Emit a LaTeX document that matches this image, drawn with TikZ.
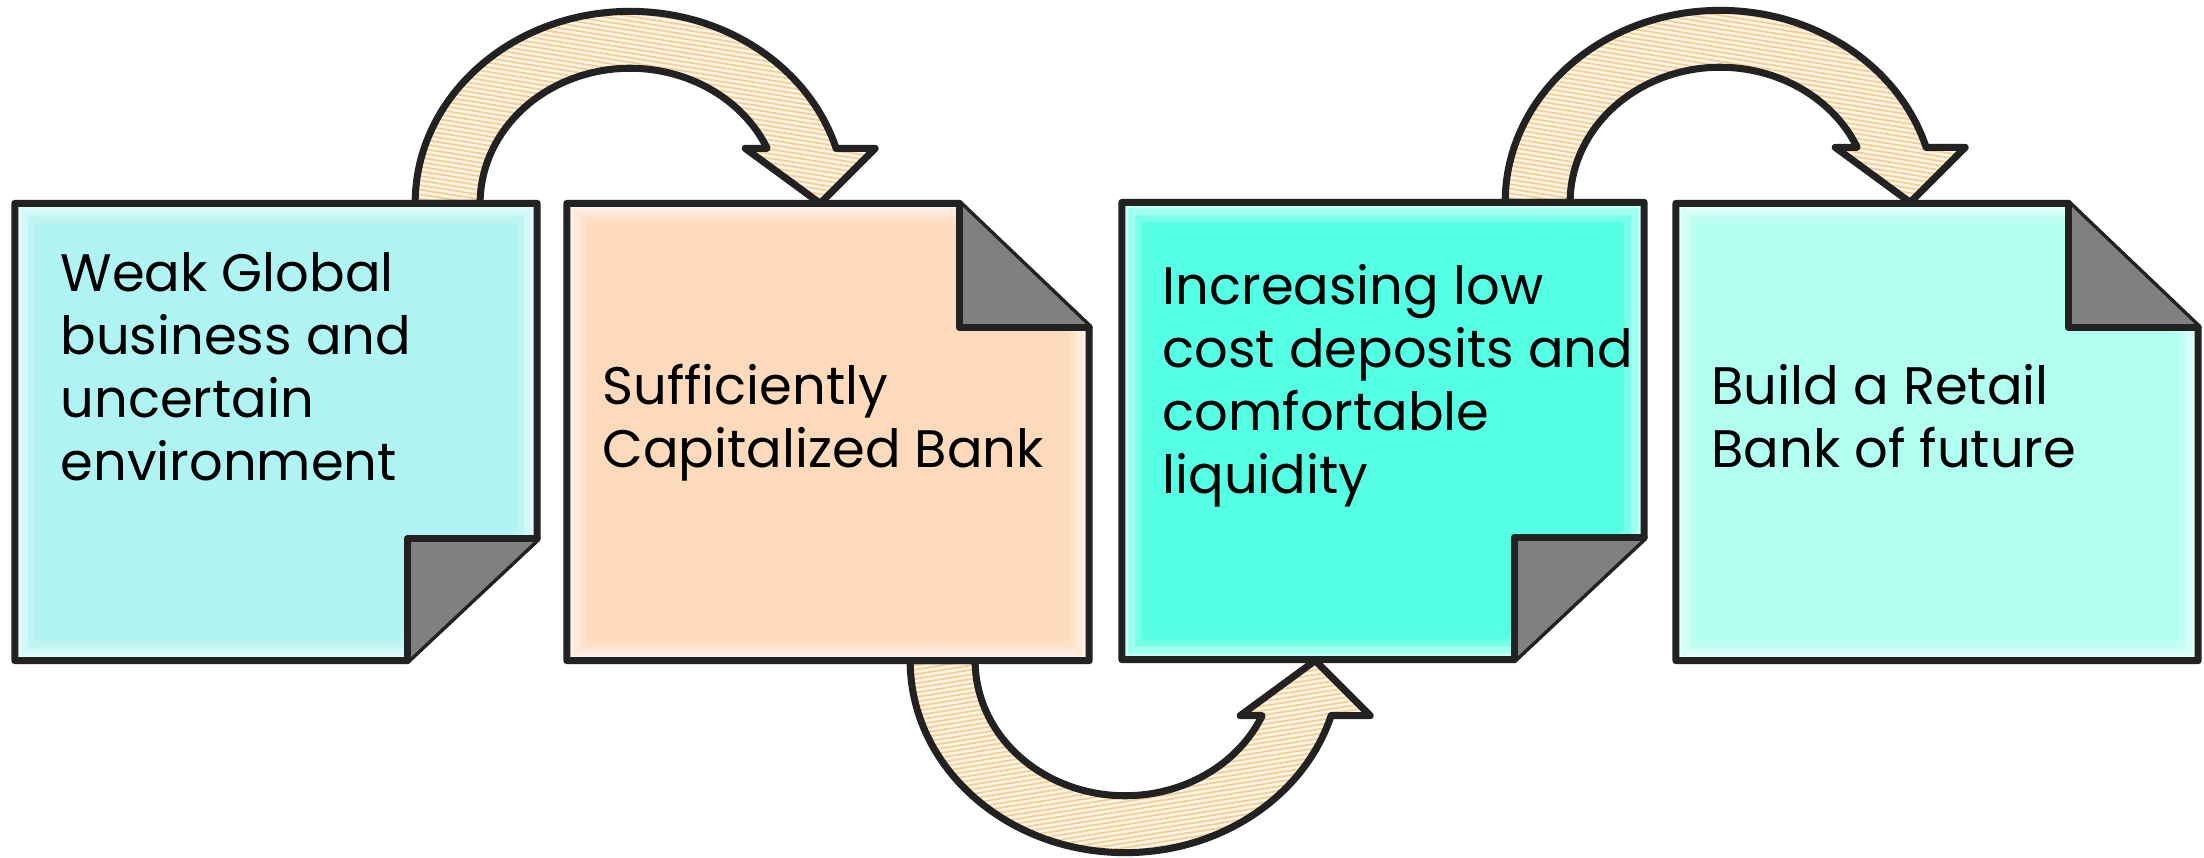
\documentclass[tikz,border=0pt]{standalone}
\usepackage{fontspec}
\setmainfont{Poppins}
\usetikzlibrary{calc}
\definecolor{lineblack}{HTML}{222222}
\definecolor{noteA}{HTML}{AFF4F2}
\definecolor{noteB}{HTML}{FDDABC}
\definecolor{noteC}{HTML}{55FFE4}
\definecolor{noteD}{HTML}{B0FFF0}
\definecolor{foldgray}{HTML}{808080}
\definecolor{arrowpeach}{HTML}{FFF6EA}
\definecolor{hatchorange}{HTML}{F9CD92}
\tikzset{
  outl/.style={draw=lineblack, line width=2pt, line join=round, line cap=round},
  boxnode/.style={minimum width=5.22cm, minimum height=4.57cm, inner sep=0pt, outer sep=0pt},
  txt/.style={font=\fontsize{15}{17.9}\selectfont, align=left, inner sep=0pt, anchor=base west, text=black},
  hatch/.style={draw=hatchorange, line width=0.5pt},
}
\newcommand\notepathBR[1]{(#1.north west) -- (#1.north east) -- ($(#1.south east)+(0,-122)$) -- ($(#1.south east)+(-130,0)$) -- (#1.south west) -- cycle}
\newcommand\notepathTR[1]{(#1.north west) -- ($(#1.north east)+(-130,0)$) -- ($(#1.north east)+(0,124)$) -- (#1.south east) -- (#1.south west) -- cycle}
\newcommand\drawnote[3]{%
  \fill[#2] #3{#1};
  \begin{scope}
    \clip #3{#1};
    \draw[white, line width=0.40cm, opacity=0.2] #3{#1};
    \draw[white, line width=0.26cm, opacity=0.3] #3{#1};
    \draw[white, line width=0.12cm, opacity=0.4] #3{#1};
  \end{scope}
  \draw[outl] #3{#1};
}
\newcommand\foldBR[1]{%
  \fill[foldgray] ($(#1.south east)+(-130,-122)$) -- ($(#1.south east)+(0,-122)$) -- ($(#1.south east)+(-130,0)$) -- cycle;
  \draw[outl] ($(#1.south east)+(-130,0)$) -- ($(#1.south east)+(-130,-122)$) -- ($(#1.south east)+(0,-122)$);
}
\newcommand\foldTR[1]{%
  \fill[foldgray] ($(#1.north east)+(-130,0)$) -- ($(#1.north east)+(-130,124)$) -- ($(#1.north east)+(0,124)$) -- cycle;
  \draw[outl] ($(#1.north east)+(-130,0)$) -- ($(#1.north east)+(-130,124)$) -- ($(#1.north east)+(0,124)$);
}
\newcommand\arrowpath{(-215,0) arc[start angle=180, end angle=343.4, x radius=215, y radius=192] -- (245,-55) -- (190,0) -- (115,-55) -- (137,-55) arc[start angle=336, end angle=180, x radius=150, y radius=135] -- cycle}
\newcommand\bigarrow[2]{%
  \begin{scope}[shift={#1}, yscale=#2]
    \fill[arrowpeach] \arrowpath;
    \begin{scope}
      \clip \arrowpath;
      \foreach \hh in {-60,...,2} \draw[hatch] (-240,\hh*4.6) -- (260,\hh*4.6+80);
    \end{scope}
    \draw[outl] \arrowpath;
  \end{scope}%
}
\begin{document}
\begin{tikzpicture}[x=0.01cm, y=-0.01cm]
\fill[white] (0,0) rectangle (2204,858);
\useasboundingbox (0,0) rectangle (2204,858);

\node[boxnode] (b1) at (276,432) {};
\node[boxnode] (b2) at (828,432) {};
\node[boxnode] (b3) at (1383,431) {};
\node[boxnode] (b4) at (1937,432) {};

\bigarrow{($(b1.north east)+(93,0)$)}{1}
\bigarrow{($(b2.south east)+(36,0)$)}{-1}
\bigarrow{($(b3.north east)+(76,0)$)}{1}

\drawnote{b1}{noteA}{\notepathBR}
\foldBR{b1}
\drawnote{b2}{noteB}{\notepathTR}
\foldTR{b2}
\drawnote{b3}{noteC}{\notepathBR}
\foldBR{b3}
\drawnote{b4}{noteD}{\notepathTR}
\foldTR{b4}

\node[txt] (t1) at ($(b1.north west)+(45,277)$) {Weak Global\\business and\\uncertain\\environment};
\node[txt] (t2) at ($(b2.north west)+(35,264)$) {Sufficiently\\Capitalized Bank};
\node[txt] (t3) at ($(b3.north west)+(40,291)$) {Increasing low\\cost deposits and\\comfortable\\liquidity};
\node[txt] (t4) at ($(b4.north west)+(35,264)$) {Build a Retail\\Bank of future};
\end{tikzpicture}
\end{document}
